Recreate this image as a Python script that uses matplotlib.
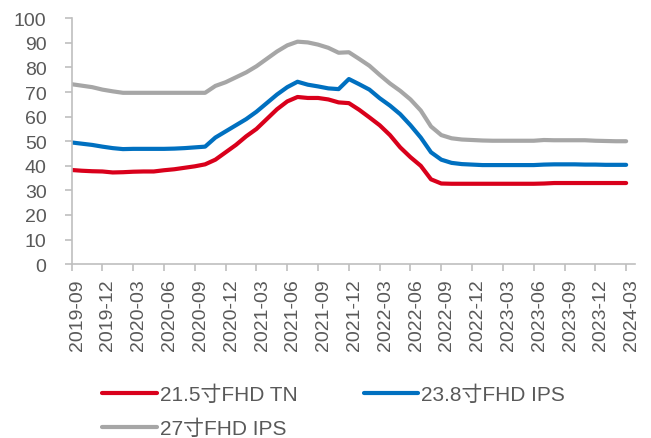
import matplotlib.pyplot as plt
import matplotlib.transforms as mtransforms
import numpy as np
import pandas as pd

plt.rcParams['font.family'] = ['Liberation Sans', 'Noto Sans CJK SC', 'DejaVu Sans']

# meses de 2019-09 a 2024-03
meses = pd.period_range('2019-09', '2024-03', freq='M').strftime('%Y-%m').tolist()

tn_215 = [38.3, 38.0, 37.8, 37.7, 37.3, 37.4, 37.6, 37.7, 37.7, 38.2,
          38.6, 39.2, 39.8, 40.6, 42.5, 45.5, 48.5, 52.0, 55.0, 59.0,
          63.0, 66.2, 68.0, 67.6, 67.6, 67.0, 65.8, 65.5, 62.8, 59.7,
          56.5, 52.5, 47.5, 43.5, 40.0, 34.5, 32.8, 32.7, 32.7, 32.7,
          32.7, 32.7, 32.7, 32.7, 32.7, 32.7, 32.8, 33.0, 33.0, 33.0,
          33.0, 33.0, 33.0, 33.0, 33.0]

ips_238 = [49.5, 49.0, 48.5, 47.8, 47.2, 46.8, 46.9, 46.9, 46.9, 46.9,
           47.0, 47.2, 47.5, 47.8, 51.5, 54.0, 56.5, 59.0, 62.0, 65.5,
           69.0, 72.0, 74.2, 73.0, 72.3, 71.5, 71.2, 75.3, 73.2, 71.0,
           67.5, 64.5, 61.0, 56.5, 51.5, 45.5, 42.5, 41.2, 40.7, 40.5,
           40.3, 40.3, 40.3, 40.3, 40.3, 40.3, 40.5, 40.6, 40.6, 40.6,
           40.5, 40.5, 40.4, 40.4, 40.4]

ips_27 = [73.2, 72.6, 72.0, 71.0, 70.3, 69.7, 69.7, 69.7, 69.7, 69.7,
          69.7, 69.7, 69.7, 69.7, 72.5, 74.0, 76.0, 78.0, 80.5, 83.5,
          86.5, 89.0, 90.5, 90.2, 89.3, 88.0, 86.0, 86.2, 83.5, 80.7,
          77.0, 73.5, 70.5, 67.0, 62.5, 56.0, 52.5, 51.2, 50.7, 50.5,
          50.3, 50.2, 50.2, 50.2, 50.2, 50.2, 50.5, 50.4, 50.4, 50.4,
          50.4, 50.2, 50.1, 50.0, 50.0]

labels = ['21.5寸FHD TN', '23.8寸FHD IPS', '27寸FHD IPS']
cores = ['#D9001B', '#0070C0', '#A6A6A6']

x = np.arange(len(meses))

fig = plt.figure(figsize=(6.51, 4.39), dpi=100)
ax = fig.add_axes([0.11, 0.396, 0.866, 0.56])

linhas = []
for serie, lab, cor in zip([tn_215, ips_238, ips_27], labels, cores):
    l, = ax.plot(x, serie, color=cor, linewidth=3, label=lab, solid_capstyle='round')
    linhas.append(l)

ax.set_xlim(0, 54.9)
ax.set_ylim(0, 100)
ax.set_yticks(range(0, 101, 10))
ax.set_xticks(x[::3])
ax.set_xticklabels(meses[::3], rotation=90)

for s in ['top', 'right']:
    ax.spines[s].set_visible(False)
for s in ['left', 'bottom']:
    ax.spines[s].set_color('#BFBFBF')
    ax.spines[s].set_linewidth(1.2)
ax.tick_params(axis='both', colors='#BFBFBF', labelcolor='#595959', labelsize=14, length=5, width=1.2)
ax.tick_params(axis='x', pad=5)
ax.tick_params(axis='y', pad=13)

# rotulos do eixo x um pouco para a direita
desloc = mtransforms.ScaledTranslation(4 / 72, 0, fig.dpi_scale_trans)
for t in ax.get_xticklabels():
    t.set_transform(t.get_transform() + desloc)

# ordem: vermelho, cinza na primeira coluna; azul na segunda
ordem = [linhas[0], linhas[2], linhas[1]]
ax.legend(ordem, [h.get_label() for h in ordem], loc='upper left',
          bbox_to_anchor=(0.04, -0.455), ncol=2, frameon=False,
          fontsize=15, handlelength=2.6, handletextpad=0.15, columnspacing=3.2,
          labelspacing=0.72, labelcolor='#595959', borderaxespad=0)

fig.savefig('out.png', dpi=100)
